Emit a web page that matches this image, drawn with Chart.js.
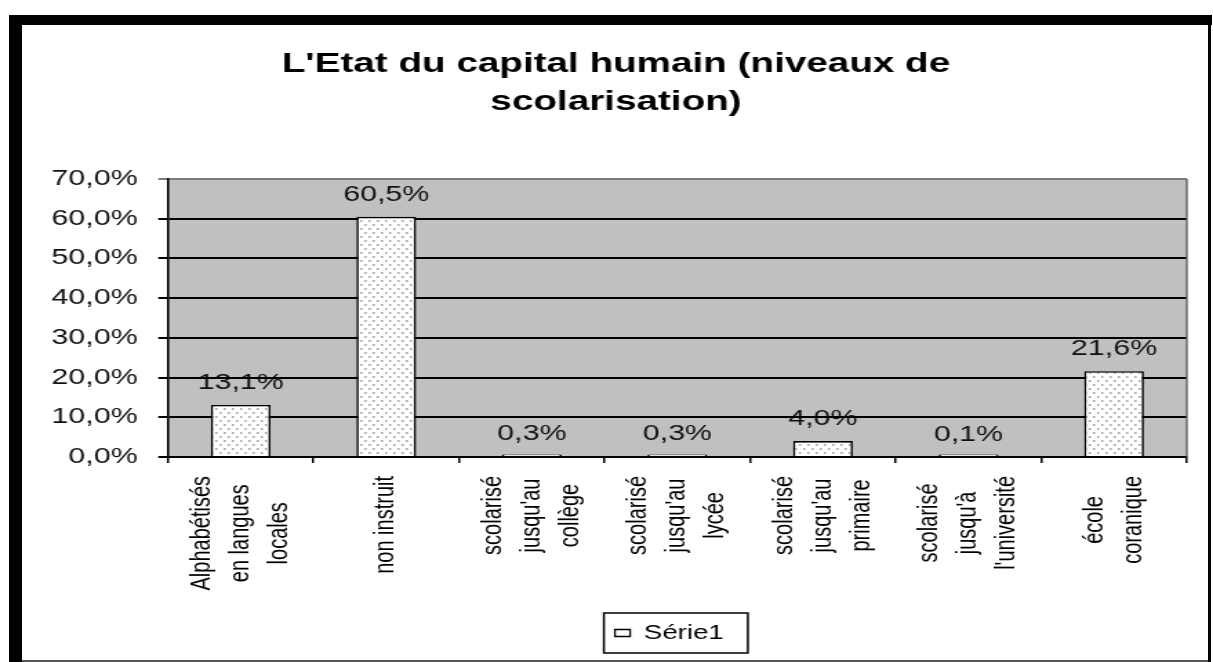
<!DOCTYPE html>
<html><head><meta charset="utf-8">
<script src="https://cdn.jsdelivr.net/npm/chart.js@4.4.1/dist/chart.umd.min.js"></script>
<style>
html,body{margin:0;padding:0;background:#fff;width:1213px;height:662px;overflow:hidden;position:relative;}
#wrap{position:absolute;left:0;top:0;width:879px;height:662px;transform:scaleX(1.38);transform-origin:0 0;}
.f{position:absolute;background:#000;z-index:2}
</style></head><body>
<div id="wrap"><canvas id="c" width="879" height="662"></canvas></div>
<div class="f" style="left:9px;top:15px;width:1203px;height:10px"></div>
<div class="f" style="left:9px;top:15px;width:13px;height:647px"></div>
<div class="f" style="left:1208px;top:15px;width:3px;height:647px"></div>
<div class="f" style="left:22px;top:660px;width:1186px;height:2px;background:#555"></div>
<script>
// ---- data ----
const categories = [
  ['Alphabétisés', 'en langues', 'locales'],
  ['non instruit'],
  ['scolarisé', "jusqu'au", 'collège'],
  ['scolarisé', "jusqu'au", 'lycée'],
  ['scolarisé', "jusqu'au", 'primaire'],
  ['scolarisé', "jusqu'à", "l'université"],
  ['école', 'coranique']
];
const values = [13.1, 60.5, 0.3, 0.3, 4.0, 0.1, 21.6];
const seriesName = 'Série1';
const titleLines = ["L'Etat du capital humain (niveaux de", 'scolarisation)'];
const yMin = 0, yMax = 70, yStep = 10;

// ---- helpers ----
const FAM = '"Liberation Sans", Arial, Helvetica, sans-serif';
Chart.defaults.font.family = FAM;
const fmt = v => Number(v).toFixed(1).replace('.', ',') + '%';

const canvas = document.getElementById('c');
function makePattern() {
  const p = document.createElement('canvas');
  p.width = 6; p.height = 8;
  const g = p.getContext('2d');
  g.fillStyle = '#ffffff'; g.fillRect(0, 0, 6, 8);
  g.fillStyle = '#a8a8a8';
  g.fillRect(0, 0, 1.5, 2);
  g.fillRect(3, 4, 1.5, 2);
  return canvas.getContext('2d').createPattern(p, 'repeat');
}

const TITLE_CENTER = 446.4;   // canvas units
const LEGEND_CENTER = 485;
const X_LABEL_TOP = 476;
const X_LINE_GAP = 28;

const layoutPlugin = {
  id: 'layoutTweaks',
  afterLayout(chart) {
    const t = chart.titleBlock;
    if (t) { const d = TITLE_CENTER - (t.left + t.right) / 2; t.left += d; t.right += d; }
    const l = chart.legend;
    if (l) { const d = LEGEND_CENTER - (l.left + l.right) / 2; l.left += d; l.right += d; }
  },
  beforeDraw(chart) {
    const { ctx, chartArea: a } = chart;
    ctx.save();
    ctx.fillStyle = '#c0c0c0';
    ctx.fillRect(a.left, a.top, a.right - a.left, a.bottom - a.top);
    // value labels (drawn below grid lines, as in the original)
    const meta = chart.getDatasetMeta(0);
    ctx.font = '22px ' + FAM;
    ctx.fillStyle = '#111';
    ctx.textAlign = 'center';
    ctx.textBaseline = 'middle';
    meta.data.forEach((el, i) => {
      const top = chart.scales.y.getPixelForValue(values[i]);
      ctx.fillText(fmt(values[i]), el.x, top - 22);
    });
    ctx.restore();
  },
  afterDraw(chart) {
    const { ctx, chartArea: a } = chart;
    ctx.save();
    // right edge of plot
    ctx.strokeStyle = '#555';
    ctx.lineWidth = 1.3;
    ctx.beginPath(); ctx.moveTo(a.right, a.top); ctx.lineTo(a.right, a.bottom); ctx.stroke();
    // category labels, rotated, lines centred within a block
    const xs = chart.scales.x;
    ctx.font = '20px ' + FAM;
    ctx.fillStyle = '#000';
    ctx.textAlign = 'center';
    ctx.textBaseline = 'middle';
    categories.forEach((lines, i) => {
      const x = xs.getPixelForValue(i);
      const maxW = Math.max(...lines.map(s => ctx.measureText(s).width));
      const cy = X_LABEL_TOP + maxW / 2;
      lines.forEach((s, j) => {
        const cx = x + (j - (lines.length - 1) / 2) * X_LINE_GAP;
        ctx.save();
        ctx.translate(cx, cy);
        ctx.rotate(-Math.PI / 2);
        ctx.fillText(s, 0, 0);
        ctx.restore();
      });
    });
    // legend frame
    const hb = chart.legend && chart.legend.legendHitBoxes && chart.legend.legendHitBoxes[0];
    if (hb) {
      ctx.strokeStyle = '#000';
      ctx.lineWidth = 1.5;
      ctx.strokeRect(hb.left - 8, hb.top - 10, hb.width + 25.5, hb.height + 20);
    }
    ctx.restore();
  }
};

new Chart(canvas, {
  type: 'bar',
  data: {
    labels: categories,
    datasets: [{
      label: seriesName,
      data: values,
      backgroundColor: makePattern(),
      borderColor: '#000',
      borderWidth: 1.6,
      barPercentage: 0.41,
      categoryPercentage: 1,
      minBarLength: 2.5
    }]
  },
  options: {
    responsive: false,
    animation: false,
    devicePixelRatio: 1,
    layout: { padding: { top: 25, left: 16, right: 19, bottom: 9 } },
    plugins: {
      title: {
        display: true,
        text: titleLines,
        color: '#000',
        font: { family: FAM, size: 28, weight: 'bold', lineHeight: 1.357 },
        padding: { top: 20.5, bottom: 57.5 }
      },
      legend: {
        display: true,
        position: 'bottom',
        labels: {
          boxWidth: 11,
          boxHeight: 7,
          padding: 10,
          color: '#000',
          font: { family: FAM, size: 20 },
          generateLabels(chart) {
            const items = Chart.defaults.plugins.legend.labels.generateLabels(chart);
            items.forEach(it => { it.fillStyle = '#fff'; it.strokeStyle = '#000'; it.lineWidth = 1.3; });
            return items;
          }
        }
      },
      tooltip: { enabled: false }
    },
    scales: {
      x: {
        grid: { display: true, drawOnChartArea: false, drawTicks: true, tickLength: 6, color: '#000', lineWidth: 1.5, offset: true },
        border: { display: true, color: '#000', width: 2 },
        ticks: { display: false },
        afterFit(s) { s.height = 156; }
      },
      y: {
        min: yMin, max: yMax,
        ticks: { stepSize: yStep, callback: v => fmt(v), color: '#111', font: { family: FAM, size: 22 }, padding: 15 },
        grid: { color: c => (c.tick && c.tick.value === yMax) ? '#7a7a7a' : '#000', lineWidth: 2, tickLength: 7, drawTicks: true },
        border: { display: true, color: '#000', width: 1.6 },
        afterFit(s) { s.width = 105.7; }
      }
    }
  },
  plugins: [layoutPlugin]
});
</script>
</body></html>
